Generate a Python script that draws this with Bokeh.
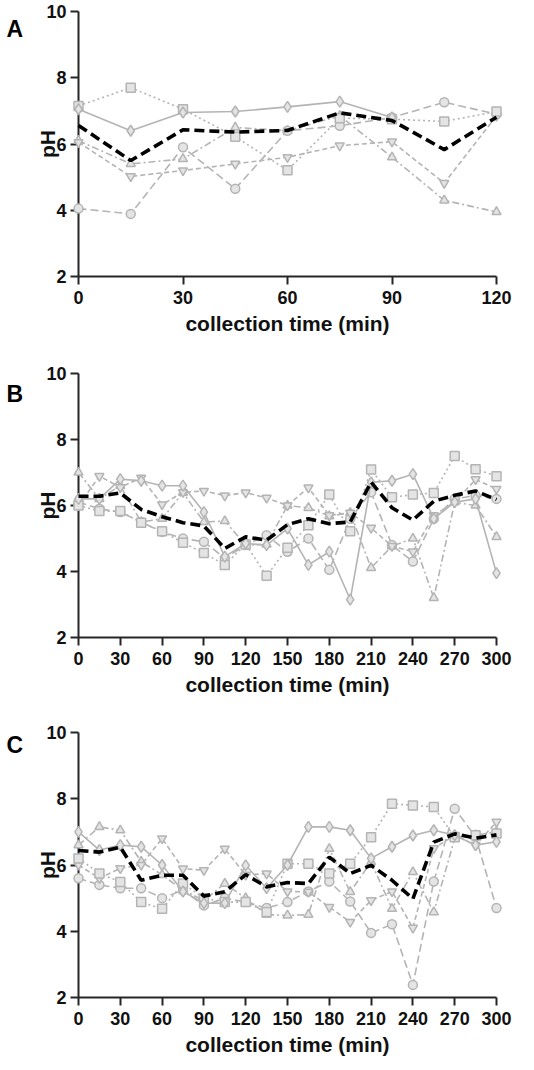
from bokeh.plotting import figure
from bokeh.layouts import column
from bokeh.models import Range1d, FixedTicker
from bokeh.core.properties import value
from bokeh.embed import file_html
from bokeh.resources import INLINE

# ---------------- data ----------------
y_ticks = [2, 4, 6, 8, 10]

a_time = [0, 15, 30, 45, 60, 75, 90, 105, 120]
a_time_short = [0, 15, 30, 45, 60, 75, 90]
a_xticks = [0, 30, 60, 90, 120]
a_mean = [6.56, 5.50, 6.43, 6.36, 6.41, 6.94, 6.71, 5.83, 6.81]
a_diamond = [7.05, 6.40, 6.95, 6.98, 7.12, 7.28, 6.80]
a_square = [7.15, 7.70, 7.05, 6.22, 5.21, 6.78, 6.75, 6.68, 6.98]
a_circle = [4.05, 3.89, 5.90, 4.65, 6.40, 6.55, 6.80, 7.26, 6.90]
a_tridown = [6.05, 5.02, 5.20, 5.40, 5.60, 5.95, 6.07, 4.82, 6.85]
a_triangle = [6.10, 5.40, 5.55, 6.50, 6.40, 6.85, 5.60, 4.30, 3.95]

bc_time = [0, 15, 30, 45, 60, 75, 90, 105, 120, 135, 150,
           165, 180, 195, 210, 225, 240, 255, 270, 285, 300]
bc_xticks = [0, 30, 60, 90, 120, 150, 180, 210, 240, 270, 300]

b_mean = [6.28, 6.28, 6.38, 5.88, 5.66, 5.48, 5.38, 4.70, 5.05, 4.95, 5.42,
          5.60, 5.45, 5.50, 6.71, 5.93, 5.56, 6.13, 6.31, 6.44, 6.18]
b_diamond = [6.20, 6.20, 6.80, 6.75, 6.60, 6.60, 5.80, 4.45, 4.85, 4.80, 5.30,
             4.20, 4.60, 3.15, 6.70, 6.75, 6.95, 5.60, 6.10, 6.20, 3.95]
b_tridown = [6.00, 6.89, 6.55, 6.84, 6.03, 6.40, 6.44, 6.30, 6.39, 6.23, 6.00,
             6.54, 5.70, 5.78, 5.32, 4.77, 4.60, 5.70, 6.10, 6.79, 6.50]
b_square = [6.00, 5.83, 5.83, 5.48, 5.22, 4.87, 4.56, 4.20, 4.82, 3.87, 4.72,
            5.40, 6.33, 5.22, 7.09, 6.25, 6.33, 6.38, 7.50, 7.10, 6.89]
b_triangle = [7.00, 6.20, 6.60, 5.50, 5.60, 6.39, 5.50, 5.53, 4.80, 4.82, 6.00,
              5.93, 5.68, 5.78, 4.11, 4.77, 5.00, 3.20, 6.10, 6.00, 5.05]
b_circle = [6.10, 5.90, 5.80, 5.50, 5.20, 5.00, 4.90, 4.40, 4.80, 5.10, 4.60,
            5.00, 4.05, 5.60, 6.40, 4.80, 4.30, 5.60, 6.20, 6.30, 6.20]

c_mean = [6.44, 6.39, 6.54, 5.54, 5.69, 5.69, 5.06, 5.19, 5.71, 5.34, 5.47,
          5.44, 6.24, 5.74, 5.99, 5.54, 4.98, 6.69, 6.94, 6.81, 6.91]
c_diamond = [7.00, 6.45, 6.60, 6.55, 6.00, 5.20, 4.85, 4.85, 5.99, 5.30, 6.00,
             7.15, 7.15, 7.05, 6.20, 6.55, 6.89, 7.05, 6.90, 6.60, 6.70]
c_circle = [5.60, 5.40, 5.30, 5.30, 5.00, 5.24, 4.78, 5.00, 4.88, 4.70, 4.88,
            5.20, 5.50, 4.90, 3.95, 4.21, 2.38, 5.50, 7.70, 6.85, 4.70]
c_square = [6.20, 5.74, 5.49, 4.88, 4.68, 5.44, 5.00, 4.88, 4.88, 4.58, 6.04,
            6.04, 5.74, 6.04, 6.84, 7.85, 7.80, 7.75, 6.84, 6.90, 6.95]
c_triangle = [6.60, 7.15, 7.05, 6.10, 5.70, 5.24, 4.93, 5.44, 5.00, 4.50, 4.48,
              4.50, 6.49, 5.19, 6.09, 4.68, 5.79, 4.58, 6.80, 6.90, 7.00]
c_tridown = [6.00, 5.60, 5.90, 6.00, 6.80, 5.89, 5.84, 6.49, 5.70, 5.74, 5.20,
             5.19, 4.73, 4.28, 4.93, 5.20, 4.10, 6.50, 6.90, 6.60, 7.30]

panel_letters = ["A", "B", "C"]
x_label = "collection time (min)"
y_label = "pH"

# ---------------- styling ----------------
FONT = "Liberation Sans"
GREY = "#b4b4b4"
MFILL = "#e4e4e4"
STYLES = {
    "diamond": dict(dash="solid", size=11),
    "square": dict(dash="2 3", size=9),
    "circle": dict(dash="8 4", size=9),
    "triangle": dict(dash="7 3 2 3", size=9),
    "inverted_triangle": dict(dash="5 3", size=9),
}


def make_panel(letter, xmax, xticks, series, mean_t, mean_v,
               letter_x, letter_y, frame_h, top, bottom):
    p = figure(frame_width=418, frame_height=frame_h,
               x_range=Range1d(0, xmax), y_range=Range1d(2, 10),
               min_border_left=78, min_border_right=22,
               min_border_top=top, min_border_bottom=bottom,
               output_backend="svg", toolbar_location=None)
    p.outline_line_color = None
    p.grid.visible = False
    p.background_fill_color = "white"
    p.border_fill_color = "white"

    for ax in (p.xaxis[0], p.yaxis[0]):
        ax.axis_line_width = 2
        ax.axis_line_color = "#262626"
        ax.major_tick_line_width = 2
        ax.major_tick_line_color = "#262626"
        ax.major_tick_in = 0
        ax.major_tick_out = 8
        ax.minor_tick_line_color = None
        ax.major_label_text_font = FONT
        ax.major_label_text_font_style = "bold"
        ax.major_label_text_font_size = "18px"
        ax.major_label_text_color = "#111111"
        ax.axis_label_text_font = FONT
        ax.axis_label_text_font_style = "bold"
        ax.axis_label_text_font_size = "21px"
        ax.axis_label_text_color = "#111111"

    p.xaxis.ticker = FixedTicker(ticks=xticks)
    p.yaxis.ticker = FixedTicker(ticks=y_ticks)
    p.xaxis.major_label_standoff = 6
    p.yaxis.major_label_standoff = 4
    p.xaxis.axis_label = x_label
    p.yaxis.axis_label = y_label
    p.xaxis.axis_label_standoff = 5
    p.yaxis.axis_label_standoff = -16

    for marker, t, v in series:
        st = STYLES[marker]
        p.line(t, v, line_color=GREY, line_width=1.6, line_dash=st["dash"],
               level="overlay")
        p.scatter(t, v, marker=marker, size=st["size"], fill_color=MFILL,
                  line_color=GREY, line_width=1.5, level="overlay")

    p.line(mean_t, mean_v, line_color="black", line_width=3.6,
           line_dash="10 5", level="overlay")

    p.text(x=[letter_x], y=[letter_y], text=[letter],
           text_font=value(FONT), text_font_style="bold",
           text_font_size="23px", text_color="black", text_align="left",
           text_baseline="alphabetic", level="overlay")
    return p


pa = make_panel(panel_letters[0], 120, a_xticks,
                [("triangle", a_time, a_triangle),
                 ("inverted_triangle", a_time, a_tridown),
                 ("circle", a_time, a_circle),
                 ("square", a_time, a_square),
                 ("diamond", a_time_short, a_diamond)],
                a_time, a_mean, -20.7, 9.47, 265, 11, 86)

pb = make_panel(panel_letters[1], 300, bc_xticks,
                [("triangle", bc_time, b_triangle),
                 ("circle", bc_time, b_circle),
                 ("inverted_triangle", bc_time, b_tridown),
                 ("square", bc_time, b_square),
                 ("diamond", bc_time, b_diamond)],
                bc_time, b_mean, -51.7, 9.38, 264, 11, 84)

pc = make_panel(panel_letters[2], 300, bc_xticks,
                [("triangle", bc_time, c_triangle),
                 ("circle", bc_time, c_circle),
                 ("inverted_triangle", bc_time, c_tridown),
                 ("square", bc_time, c_square),
                 ("diamond", bc_time, c_diamond)],
                bc_time, c_mean, -51.7, 9.62, 265, 11, 56)

layout = column(pa, pb, pc, spacing=0)
open("out.html", "w").write(file_html(layout, INLINE))
